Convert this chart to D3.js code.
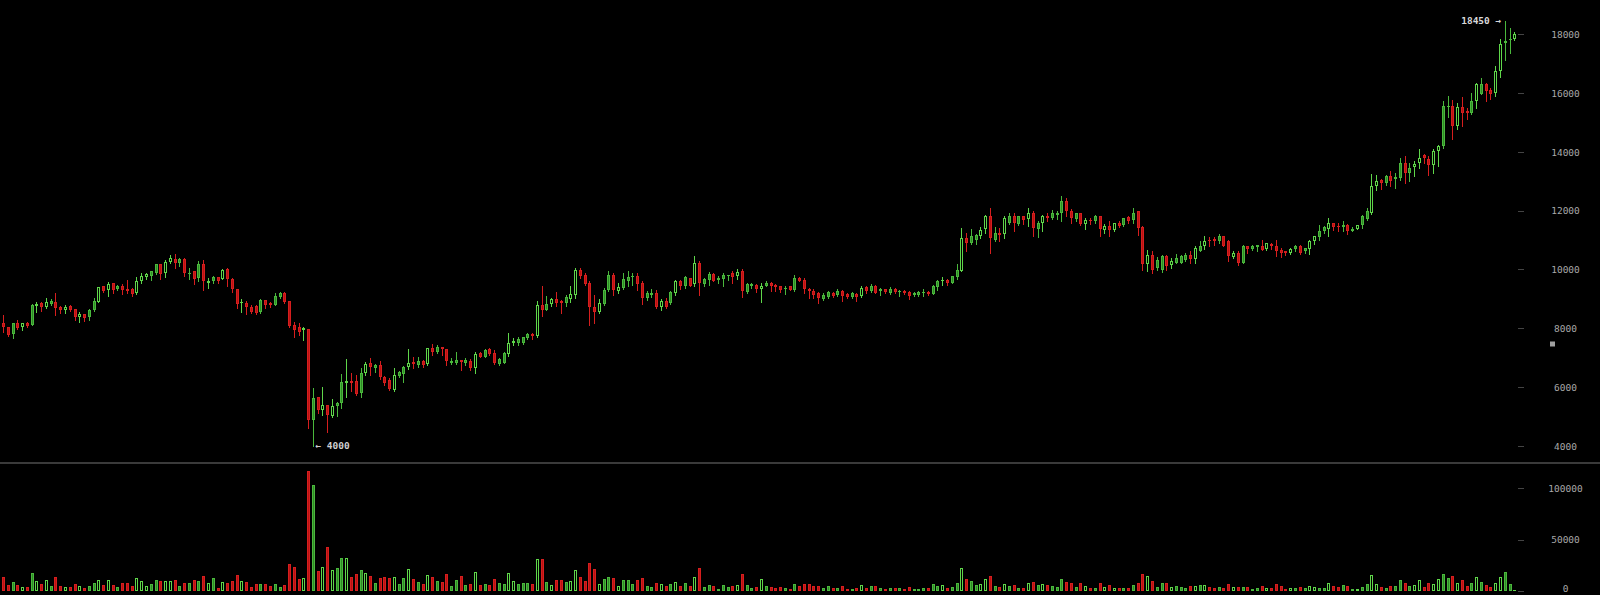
<!DOCTYPE html>
<html>
<head>
<meta charset="utf-8">
<script src="https://cdn.jsdelivr.net/npm/d3@7/dist/d3.min.js"></script>
<style>
  html, body { margin: 0; padding: 0; background: #000; }
  svg { display: block; }
</style>
</head>
<body>
<script>
const openPrices = [
8190,8040,7810,8190,8040,8190,8110,8760,8850,8740,
8830,8910,8740,8620,8770,8650,8380,8490,8380,8620,
8910,9420,9300,9530,9350,9420,9330,9350,9190,9590,
9740,9760,9870,10180,9870,10250,10360,10210,10360,9850,
9960,9700,10190,9530,9590,9740,9670,10010,9670,9350,
8850,8850,8740,8770,8570,8960,8850,8790,9060,9190,
8930,8110,8040,7940,7980,4880,5660,5220,5390,5020,
5360,5450,6150,6220,6220,5810,6490,6810,6640,6750,
6340,6240,5900,6380,6450,6700,6870,6740,6890,6790,
7320,7190,7360,7290,6830,6830,6920,6810,6890,6660,
7170,7040,7290,7170,6790,6830,7130,7490,7490,7510,
7660,7810,7740,8790,8620,8830,8990,8940,8850,8990,
9130,9980,9810,9550,8740,8570,8830,9300,9810,9280,
9360,9620,9740,9780,9530,9020,9130,9190,8740,8940,
8850,9210,9620,9420,9700,9510,10230,9510,9640,9840,
9640,9670,9760,9870,9760,9930,9250,9440,9470,9330,
9440,9550,9470,9420,9330,9420,9300,9720,9640,9330,
9280,9190,8990,9080,9210,9130,9270,9160,9080,9170,
9100,9400,9280,9450,9270,9330,9210,9340,9250,9280,
9230,9130,9140,9190,9250,9170,9400,9590,9640,9550,
9740,9960,11060,10910,11000,11140,11370,11820,11000,11250,
11210,11590,11800,11550,11800,11710,11930,11370,11590,11800,
11740,11850,11930,12310,12000,11710,11910,11550,11680,11630,
11800,11340,11480,11340,11590,11510,11780,11680,11970,11440,
10190,10490,10040,9980,10440,10150,10230,10230,10320,10490,
10350,10640,10780,11000,11040,10950,11120,10950,10420,10570,
10230,10780,10710,10760,10800,10690,10870,10800,10660,10610,
10570,10690,10800,10610,10690,10950,11100,11290,11370,11570,
11480,11440,11510,11320,11370,11510,11710,11910,12820,13040,
12930,13160,13070,13100,13610,13270,13480,13610,13890,13750,
13550,14040,14180,15540,15560,14860,15520,15400,15310,15740,
15970,16310,16100,15990,16730,17690,17780,17830
];
const highPrices = [
8450,8060,8180,8280,8190,8230,8830,8910,8910,9020,
8990,9190,8770,8790,8790,8650,8570,8490,8660,9020,
9410,9440,9580,9550,9470,9510,9640,9380,9740,9870,
9870,9960,10190,10190,10320,10490,10530,10380,10380,10040,
9960,10300,10320,9700,9780,9740,10010,10040,9700,9350,
8990,8940,8790,8790,8990,8960,8910,9190,9250,9250,
8930,8230,8170,8060,7980,5980,5680,6020,5390,5590,
5510,6450,6950,6490,6410,6640,6860,6980,6790,6890,
6380,6300,6640,6560,6720,7290,7040,7020,6920,7340,
7460,7430,7360,7290,6980,7210,6920,6980,6950,7210,
7210,7290,7320,7260,6980,7210,7830,7660,7720,7720,
7830,7830,8940,9440,9100,9040,9230,8960,9130,9420,
10040,10040,9890,9590,9130,8990,9380,9960,9870,9550,
9890,9960,9890,9870,9590,9280,9330,9300,8990,9020,
9280,9640,9640,9780,9700,10440,10270,9720,9920,9890,
9760,9870,9820,9930,10030,10010,9550,9530,9510,9550,
9590,9580,9510,9440,9420,9440,9810,9740,9700,9360,
9330,9250,9210,9280,9250,9330,9300,9190,9250,9190,
9420,9420,9510,9470,9360,9330,9400,9360,9300,9300,
9270,9250,9260,9330,9270,9470,9640,9740,9670,9780,
10190,11400,11250,11370,11210,11440,11850,12100,11440,11420,
11800,11930,11910,11820,11820,12080,11970,11630,11850,11910,
12020,11970,12500,12420,12050,11930,11930,11740,11740,11850,
11800,11550,11630,11590,11630,11760,11820,12080,12000,11480,
10660,10610,10420,10490,10490,10380,10530,10490,10550,10640,
10780,10980,11140,11100,11100,11200,11120,11000,10610,10610,
10830,10780,10830,10830,11000,10910,10890,11000,10720,10630,
10720,10830,10830,10730,10990,11140,11510,11460,11740,11590,
11590,11630,11550,11440,11520,11850,12080,13250,13210,13070,
13210,13360,13290,13780,13860,13610,13670,14090,13930,13840,
14090,14230,15730,15900,15760,15670,15860,15480,15990,16350,
16500,16320,16160,16920,17830,18450,18200,18070
];
const lowPrices = [
7890,7740,7680,7970,7940,8060,8100,8570,8600,8680,
8790,8450,8530,8510,8590,8280,8230,8260,8280,8600,
8900,9250,9100,9190,9300,9170,9210,9100,9170,9530,
9670,9640,9850,9690,9740,10230,10050,10120,9790,9670,
9500,9620,9300,9380,9550,9550,9670,9440,9250,8680,
8570,8490,8530,8480,8530,8700,8740,8790,9020,8850,
8040,7700,7770,7600,4610,4000,5110,5050,4490,4980,
5020,5280,5680,5880,5730,5680,6420,6410,6530,6270,
6070,5900,5880,6360,6190,6610,6640,6680,6680,6750,
7090,7150,7090,6750,6780,6790,6580,6750,6580,6490,
7020,7020,7090,6790,6750,6810,7060,7430,7430,7470,
7630,7630,7720,8420,8620,8760,8760,8530,8760,8910,
9020,9700,9470,8110,8190,8530,8790,9280,9130,9210,
9330,9440,9470,9300,8830,8960,9060,8680,8620,8680,
8830,9130,9330,9360,9420,9440,9130,9420,9470,9590,
9550,9420,9640,9550,9670,9080,9210,9380,9250,8910,
9420,9280,9280,9250,9170,9290,9280,9590,9210,9020,
9040,8870,8960,9020,9080,9100,8940,9040,9040,8930,
9080,9210,9250,9190,9130,9210,9170,9210,9100,9170,
9000,9100,9100,9100,9130,9160,9300,9470,9470,9530,
9670,9950,10610,10870,10870,11060,11230,10550,10950,10980,
11060,11550,11320,11510,11550,11460,11120,11100,11290,11630,
11710,11710,11660,11800,11590,11660,11510,11370,11550,11590,
11140,11230,11140,11320,11440,11480,11590,11570,11170,9980,
9950,9880,9980,9920,9980,10040,10210,10210,10270,10230,
10230,10610,10690,10780,10830,10910,10790,10300,10380,10150,
10210,10570,10660,10610,10650,10660,10690,10460,10420,10490,
10530,10640,10530,10550,10530,10870,11000,11250,11120,11340,
11320,11290,11210,11290,11360,11400,11680,11890,12700,12730,
12870,12840,12760,13040,12930,12990,13160,13440,13630,13210,
13290,13520,14120,15180,14430,14770,14860,15110,15290,15480,
15960,15740,15790,15880,16540,17120,17350,17780
];
const closePrices = [
8040,7770,8170,8000,8170,8080,8790,8810,8740,8910,
8940,8680,8620,8740,8620,8380,8490,8340,8620,8930,
9400,9280,9510,9300,9440,9300,9280,9170,9620,9780,
9840,9930,10180,9850,10260,10380,10210,10360,9870,9880,
9670,10190,9620,9590,9740,9620,9980,9670,9330,8830,
8910,8740,8570,8510,8960,8790,8790,9100,9210,8910,
8080,7940,7890,8000,4880,5620,5220,5390,5050,5360,
5470,6190,6220,6150,5770,6490,6790,6700,6750,6360,
6150,5930,6410,6530,6700,6810,6790,6890,6750,7320,
7210,7380,7290,6890,6890,6920,6870,6920,6640,7120,
7040,7260,7130,6830,6950,7170,7510,7580,7630,7700,
7810,7740,8790,8620,8830,8990,8870,8850,9060,9170,
9980,9780,9510,8740,8570,8850,9300,9810,9300,9400,
9670,9740,9780,9510,9020,9210,9210,8740,8940,8740,
9250,9620,9440,9740,9440,10230,9530,9670,9850,9620,
9700,9810,9810,9740,9920,9280,9510,9500,9330,9440,
9550,9440,9400,9300,9380,9300,9700,9620,9330,9280,
9130,9020,9130,9250,9100,9270,9100,9060,9190,9060,
9380,9280,9450,9210,9330,9250,9340,9250,9280,9190,
9100,9210,9220,9250,9160,9440,9590,9640,9550,9760,
9980,11060,10910,11140,11170,11340,11820,11060,11230,11170,
11740,11800,11590,11800,11680,11910,11400,11590,11820,11740,
11910,11930,12310,11970,11740,11910,11540,11680,11630,11800,
11370,11480,11340,11570,11460,11740,11650,11930,11400,10190,
10490,9980,10320,10460,10100,10270,10380,10440,10490,10350,
10720,10800,10980,10950,10950,11140,10800,10440,10550,10230,
10800,10690,10780,10820,10660,10890,10800,10640,10570,10550,
10690,10800,10570,10720,10980,11120,11320,11440,11590,11440,
11440,11510,11290,11390,11510,11800,11970,12820,13010,12930,
13160,13020,13140,13610,13270,13440,13590,13780,13780,13550,
14040,14180,15560,15560,14860,15520,15330,15310,15730,16310,
16310,16050,15970,16730,17670,17750,17830,18010
];
const volumes = [
13000,5500,8500,5500,3900,3900,17600,9400,6500,10400,
4900,13000,4900,3900,3900,6500,4900,2900,4900,7500,
10400,5500,10400,5500,3900,7500,7500,4900,12400,9400,
4900,6500,10400,9400,9400,9400,10400,4900,7500,7500,
10400,9400,14700,7500,12400,2900,8500,7500,9400,15600,
9400,8500,3900,6500,6500,6500,4900,6500,3900,5500,
26000,23400,11100,12400,117200,103500,19500,23400,43000,20500,
22100,31900,31900,13700,16300,20200,17300,14700,7500,12400,
13700,12000,13000,6500,12000,21200,11100,8500,6500,15300,
13000,9400,8500,16600,4600,10400,14000,5500,6500,18600,
5500,6500,5500,11100,7500,6500,17600,9400,6500,7500,
7500,6500,30600,30600,8500,5500,10400,10400,8500,9400,
20200,13000,9400,27000,21200,6500,11100,13700,12000,4600,
10400,10400,6500,10400,12000,4600,3600,7500,6500,4600,
6500,8500,4600,7500,4600,13700,22500,3600,5500,4600,
2000,5500,3600,4600,5500,16600,5500,2600,3600,11100,
4600,3600,2600,3600,2600,1600,6500,4600,6500,6500,
4600,4600,2600,4600,2600,2600,4600,1600,1600,2600,
5500,2600,4600,4600,2600,1600,2600,2600,2600,1600,
3600,1600,1600,2600,2600,6500,4600,5500,2600,3600,
7500,22100,11100,9400,5500,6500,11100,14000,4600,3600,
6500,4600,5500,2600,2600,7500,8500,5500,6500,5500,
4600,3600,11100,8500,7500,3600,7500,4600,2600,2600,
7500,3600,5500,2600,2600,2600,2600,5500,7500,16600,
14700,9400,3600,7500,7500,3600,4600,3600,2600,4600,
4600,5500,5500,3600,2600,3600,2600,6500,3600,3600,
3600,3600,1600,2600,4600,2600,2600,6500,4600,1600,
2600,2600,3600,2600,4600,3600,2600,2600,7500,4600,
3600,5500,4600,1600,1600,3600,6500,15300,6500,3600,
2600,4600,4600,10400,7500,4600,5500,10400,3900,7200,
6500,11100,15900,12700,14300,7800,10400,4600,7200,13000,
8500,5500,3900,7200,13000,18200,6500,700
];
const hollowCandles = [4,7,9,13,16,20,22,28,29,30,34,35,43,46,50,63,67,69,72,76,82,85,89,99,106,107,112,115,119,120,125,129,138,141,145,154,159,180,197,201,205,206,210,215,218,227,231,233,240,245,250,252,258,265,270,274,275,278,284,287,288,296,297,300,301,305,309,313,314,317];
const priceTicks = [4000,6000,8000,10000,12000,14000,16000,18000];
const volumeTicks = [0,50000,100000];
const maxLabel = "18450 \u2192";
const minLabel = "\u2190 4000";
const markerPrice = 7480;

const N = closePrices.length;
const W = 1600, H = 595;
const COL = {
  redEdge: "#d61e1e", redFill: "#b81212",
  greenEdge: "#4ab83c", greenFill: "#2f8a27", hollow: "#5fd64a",
  tick: "#444", label: "#a8a8a8", sep: "#3a3a3a"
};

const svg = d3.select("body").append("svg").attr("width", W).attr("height", H)
  .style("background", "#000");

const x = d3.scaleLinear().domain([0, N - 1]).range([3, 1514.3]);
const y = d3.scaleLinear().domain([4000, 18000]).range([446, 34]);
const vy = d3.scaleLinear().domain([0, 100000]).range([590.7, 488.3]);

const hollowSet = new Set(hollowCandles);
const data = d3.range(N).map(i => ({
  i, o: openPrices[i], h: highPrices[i], l: lowPrices[i], c: closePrices[i], v: volumes[i],
  up: closePrices[i] >= openPrices[i], hollow: hollowSet.has(i)
}));

function edge(d) { return d.up ? (d.hollow ? COL.hollow : COL.greenEdge) : COL.redEdge; }
function fill(d) { return d.up ? (d.hollow ? "#000" : COL.greenFill) : COL.redFill; }
function x0(d) { return Math.round(x(d.i)) - 1; }

// separator
svg.append("line").attr("x1", 0).attr("x2", W).attr("y1", 463).attr("y2", 463)
  .attr("stroke", COL.sep).attr("stroke-width", 2);

// candles
const cg = svg.append("g");
const candle = cg.selectAll("g").data(data).join("g");
candle.append("line")
  .attr("x1", d => x0(d) + 1.5).attr("x2", d => x0(d) + 1.5)
  .attr("y1", d => Math.round(y(d.h))).attr("y2", d => Math.round(y(d.l)) + 1)
  .attr("stroke", edge).attr("stroke-width", 1);
candle.each(function(d) {
  const g = d3.select(this);
  const top = Math.round(y(Math.max(d.o, d.c)));
  const bot = Math.round(y(Math.min(d.o, d.c)));
  const h = Math.max(1, bot - top);
  if (h >= 3) {
    g.append("rect").attr("x", x0(d) + 0.5).attr("y", top + 0.5)
      .attr("width", 2).attr("height", h - 1)
      .attr("fill", fill(d)).attr("stroke", edge(d)).attr("stroke-width", 1);
  } else {
    g.append("rect").attr("x", x0(d)).attr("y", top)
      .attr("width", 3).attr("height", h).attr("fill", edge(d));
  }
});

// volume bars
const vg = svg.append("g");
vg.selectAll("g").data(data).join("g").each(function(d) {
  const g = d3.select(this);
  const top = Math.round(vy(d.v));
  const bot = Math.round(vy(0));
  const h = Math.max(1, bot - top);
  if (h >= 3) {
    g.append("rect").attr("x", x0(d) + 0.5).attr("y", top + 0.5)
      .attr("width", 2).attr("height", h - 1)
      .attr("fill", fill(d)).attr("stroke", edge(d)).attr("stroke-width", 1);
  } else {
    g.append("rect").attr("x", x0(d)).attr("y", top)
      .attr("width", 3).attr("height", h).attr("fill", edge(d));
  }
});

// axes
function styleAxis(g) {
  g.select(".domain").remove();
  g.selectAll(".tick line").attr("stroke", COL.tick).attr("shape-rendering", "crispEdges");
  g.selectAll(".tick text").attr("x", 47.5).attr("text-anchor", "middle")
    .attr("fill", COL.label).attr("font-family", "'DejaVu Sans Mono', monospace")
    .attr("font-size", "9.5px").attr("dy", "0.35em");
}
svg.append("g").attr("transform", "translate(1518,0)")
  .call(d3.axisRight(y).tickValues(priceTicks).tickSize(6).tickFormat(d3.format("d")))
  .call(styleAxis);
svg.append("g").attr("transform", "translate(1518,0)")
  .call(d3.axisRight(vy).tickValues(volumeTicks).tickSize(6).tickFormat(d3.format("d")))
  .call(styleAxis)
  .call(g => g.selectAll(".tick text").filter(d => d === 0).attr("dy", "0.05em"));

// max / min annotations
const hiIdx = d3.maxIndex(highPrices);
const loIdx = d3.minIndex(lowPrices);
svg.append("text").attr("x", x(hiIdx) - 3.5).attr("y", y(highPrices[hiIdx]))
  .attr("dy", "0.35em").attr("text-anchor", "end")
  .attr("fill", "#d8d8d8").attr("font-family", "'DejaVu Sans Mono', monospace")
  .attr("font-size", "9.5px").attr("font-weight", "bold").text(maxLabel);
svg.append("text").attr("x", x(loIdx) + 2.5).attr("y", y(lowPrices[loIdx]))
  .attr("dy", "0.35em").attr("text-anchor", "start")
  .attr("fill", "#cfcfcf").attr("font-family", "'DejaVu Sans Mono', monospace")
  .attr("font-size", "9.5px").attr("font-weight", "bold").text(minLabel);

// small marker square
svg.append("rect").attr("x", 1550).attr("y", Math.round(y(markerPrice)) - 2.5)
  .attr("width", 5).attr("height", 5).attr("fill", "#a0a0a0");
</script>
</body>
</html>
